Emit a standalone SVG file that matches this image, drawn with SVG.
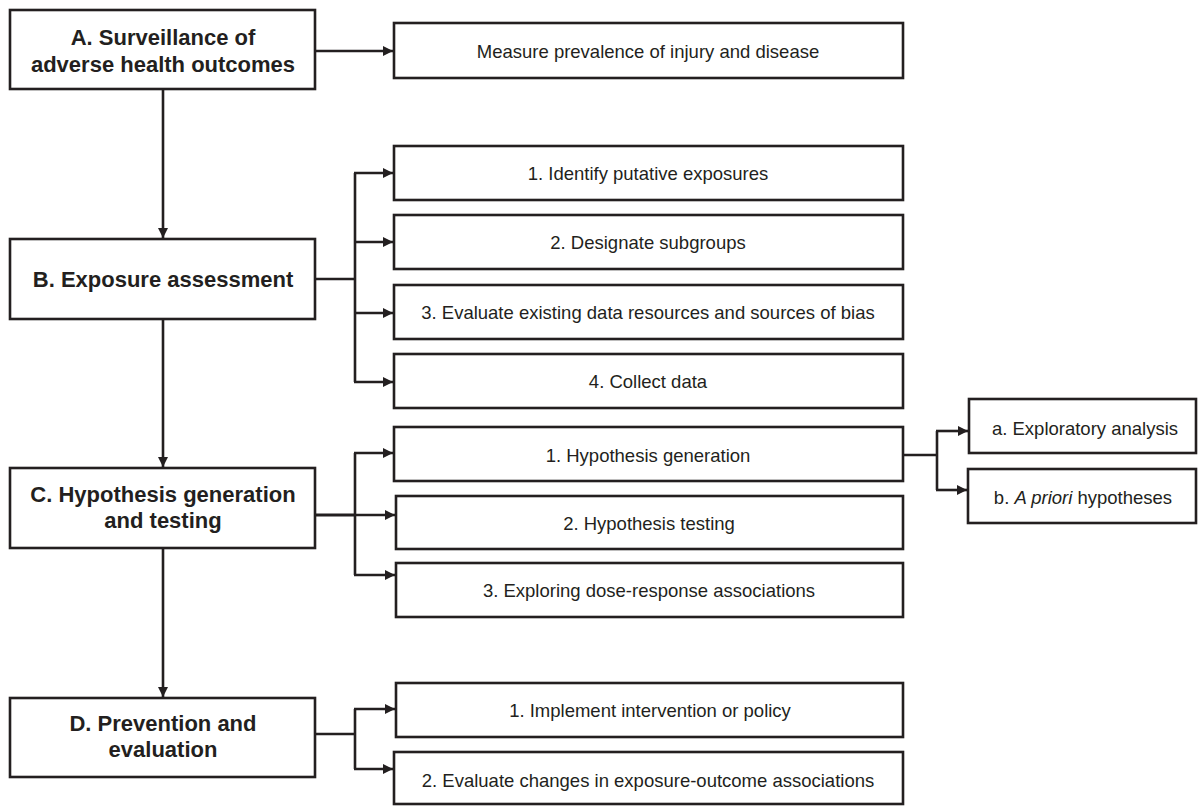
<svg xmlns="http://www.w3.org/2000/svg" width="1198" height="806" viewBox="0 0 1198 806">
<style>
  rect.box { fill: #ffffff; stroke: #231f20; stroke-width: 2.6; }
  text { fill: #231f20; font-family: "Liberation Sans", Arial, sans-serif; text-anchor: middle; }
  text.main { font-size: 22px; font-weight: bold; }
  text.sub { font-size: 18.5px; }
  .conn path { fill: none; stroke: #231f20; stroke-width: 2.6; }
  .conn path.arr { marker-end: url(#ah); }
</style>
<defs>
  <marker id="ah" markerWidth="11" markerHeight="10" refX="10" refY="5" orient="auto" markerUnits="userSpaceOnUse">
    <path d="M0,0 L10,5 L0,10 z" fill="#231f20"/>
  </marker>
</defs>
<rect width="1198" height="806" fill="#ffffff"/>

<g id="connectors" class="conn">
  <path class="arr" d="M315,51 H393"/>
  <path class="arr" d="M163,89 V238"/>
  <path d="M315,279 H355"/>
  <path d="M355,173 V382"/>
  <path class="arr" d="M354,173 H393"/>
  <path class="arr" d="M354,242 H393"/>
  <path class="arr" d="M354,313 H393"/>
  <path class="arr" d="M354,382 H393"/>
  <path class="arr" d="M163,319 V467"/>
  <path d="M315,515 H355" style="stroke-width:3.2"/>
  <path d="M355,453 V575"/>
  <path class="arr" d="M354,453 H393"/>
  <path class="arr" d="M354,515 H395"/>
  <path class="arr" d="M354,575 H395"/>
  <path d="M903,455 H937"/>
  <path d="M937,431 V490"/>
  <path class="arr" d="M936,431 H968"/>
  <path class="arr" d="M936,490 H967"/>
  <path class="arr" d="M163,548 V697"/>
  <path d="M315,734 H355"/>
  <path d="M355,709 V769"/>
  <path class="arr" d="M354,709 H395"/>
  <path class="arr" d="M354,769 H393"/>
</g>

<g id="nodeA">
  <rect class="box" x="10" y="10" width="305" height="79"/>
  <text class="main" x="163" y="45">A. Surveillance of</text>
  <text class="main" x="163" y="72">adverse health outcomes</text>
</g>
<g id="nodeA1">
  <rect class="box" x="394" y="23" width="509" height="55"/>
  <text class="sub" x="648" y="58">Measure prevalence of injury and disease</text>
</g>

<g id="nodeB">
  <rect class="box" x="10" y="239" width="305" height="80"/>
  <text class="main" x="163" y="287">B. Exposure assessment</text>
</g>
<g id="nodeB1">
  <rect class="box" x="394" y="146" width="509" height="54"/>
  <text class="sub" x="648" y="180">1. Identify putative exposures</text>
</g>
<g id="nodeB2">
  <rect class="box" x="394" y="215" width="509" height="54"/>
  <text class="sub" x="648" y="249">2. Designate subgroups</text>
</g>
<g id="nodeB3">
  <rect class="box" x="394" y="285" width="509" height="54"/>
  <text class="sub" x="648" y="319">3. Evaluate existing data resources and sources of bias</text>
</g>
<g id="nodeB4">
  <rect class="box" x="394" y="354" width="509" height="54"/>
  <text class="sub" x="648" y="388">4. Collect data</text>
</g>

<g id="nodeC">
  <rect class="box" x="10" y="468" width="305" height="80"/>
  <text class="main" x="163" y="502">C. Hypothesis generation</text>
  <text class="main" x="163" y="528">and testing</text>
</g>
<g id="nodeC1">
  <rect class="box" x="394" y="427" width="509" height="54"/>
  <text class="sub" x="648" y="462">1. Hypothesis generation</text>
</g>
<g id="nodeC2">
  <rect class="box" x="396" y="496" width="507" height="53"/>
  <text class="sub" x="649" y="530">2. Hypothesis testing</text>
</g>
<g id="nodeC3">
  <rect class="box" x="396" y="563" width="507" height="54"/>
  <text class="sub" x="649" y="597">3. Exploring dose-response associations</text>
</g>
<g id="nodeCa">
  <rect class="box" x="969" y="399" width="227" height="54"/>
  <text class="sub" x="1085" y="435">a. Exploratory analysis</text>
</g>
<g id="nodeCb">
  <rect class="box" x="968" y="469" width="228" height="54"/>
  <text class="sub" x="1083" y="504">b. <tspan font-style="italic">A priori</tspan> hypotheses</text>
</g>

<g id="nodeD">
  <rect class="box" x="10" y="698" width="305" height="79"/>
  <text class="main" x="163" y="731">D. Prevention and</text>
  <text class="main" x="163" y="757">evaluation</text>
</g>
<g id="nodeD1">
  <rect class="box" x="396" y="683" width="507" height="54"/>
  <text class="sub" x="650" y="717">1. Implement intervention or policy</text>
</g>
<g id="nodeD2">
  <rect class="box" x="394" y="752" width="509" height="52"/>
  <text class="sub" x="648" y="787">2. Evaluate changes in exposure-outcome associations</text>
</g>
</svg>
